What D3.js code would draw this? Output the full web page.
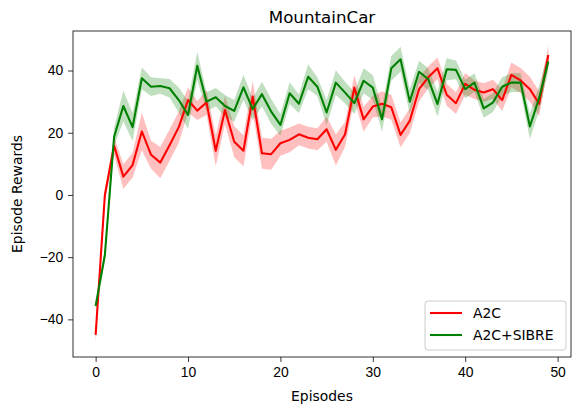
<!DOCTYPE html>
<html>
<head>
<meta charset="utf-8">
<script src="https://cdn.jsdelivr.net/npm/d3@7"></script>
<style>
  body { margin: 0; background: #fff; }
  svg { display: block; font-family: "DejaVu Sans", sans-serif; }
  .tick text { font-size: 13.9px; fill: #000; }
  .tick line { stroke: #000; stroke-width: 0.8; }
  .domain { stroke: #000; stroke-width: 0.8; }
</style>
</head>
<body>
<svg width="572" height="408"></svg>
<script>
var episodes = d3.range(0, 50);

var a2c = [-45, 0, 15.8, 5.9, 9.6, 20.4, 12.9, 10.4, 16, 21.8,
  30.5, 27.1, 29.7, 14.2, 27.3, 17.1, 14.2, 31.6, 13.4, 13.1,
  16.6, 17.7, 19.5, 18.4, 17.9, 21.1, 14.5, 19.5, 34.5, 24.3,
  28.4, 29.3, 28.2, 19.3, 23.8, 34, 37.8, 40.7, 32.2, 29.5,
  35.7, 33.8, 32.9, 34, 30.5, 38.6, 36.8, 34, 29.3, 45];
var a2cStd = [2.5, 2, 3, 4, 4, 6, 4.5, 5, 5, 5,
  4, 3, 4, 5, 4.5, 5, 5, 5, 5, 5,
  4, 4, 3.5, 3.5, 3.5, 4, 5, 4, 4, 4,
  3.5, 4, 4, 4, 4, 4, 3.5, 3.5, 3.5, 3.5,
  3.5, 3, 3, 3, 3.5, 4, 4, 4, 4, 3];

var sibre = [-35.7, -19.3, 18.7, 28.6, 21.8, 37.5, 34.8, 35, 34.3, 30.5,
  25.7, 41.5, 30, 31.4, 28.6, 27, 34.6, 27.6, 32.4, 26.8,
  22.5, 32.7, 29.3, 38, 34.8, 26.5, 36.1, 32.9, 29.5, 36.7,
  34.5, 24.3, 40.7, 43.6, 30, 39.6, 37.2, 29.2, 40.4, 40.2,
  34, 36.1, 27.8, 29.7, 34.8, 36.1, 36.1, 22, 31.1, 42.9];
var sibreStd = [1, 2, 3, 5, 4.5, 3.5, 3, 2.5, 3, 4,
  4.5, 4.5, 3, 3, 3.5, 3.5, 4, 3.5, 4, 4,
  3.5, 3.5, 3, 4, 3, 4, 4, 3.5, 3.5, 4,
  4, 4, 4, 4, 4, 3.5, 3.5, 4, 3.5, 3,
  3, 3, 3, 3, 3, 3, 3, 4, 4, 3];

var xTicks = [0, 10, 20, 30, 40, 50];
var yTicks = [-40, -20, 0, 20, 40];
var seriesNames = ["A2C", "A2C+SIBRE"];
var seriesColors = ["#ff0000", "#008000"];

var svg = d3.select("svg"),
  margin = { top: 31, right: 1, bottom: 51, left: 73 },
  width = +svg.attr("width") - margin.left - margin.right,
  height = +svg.attr("height") - margin.top - margin.bottom;

var x = d3.scaleLinear().domain([-2.45, 51.45]).range([0, width]),
  y = d3.scaleLinear().domain([-52.1, 52.7]).range([height, 0]);

var g = svg.append("g")
  .attr("transform", "translate(" + margin.left + "," + margin.top + ")");

var series = [
  { mean: a2c, std: a2cStd, color: seriesColors[0], name: seriesNames[0] },
  { mean: sibre, std: sibreStd, color: seriesColors[1], name: seriesNames[1] }
];

var band = d3.area()
  .x(function(d) { return x(d.ep); })
  .y0(function(d) { return y(d.lo); })
  .y1(function(d) { return y(d.hi); });

var line = d3.line()
  .x(function(d) { return x(d.ep); })
  .y(function(d) { return y(d.v); });

g.append("clipPath").attr("id", "clip")
  .append("rect").attr("width", width).attr("height", height);

var plot = g.append("g").attr("clip-path", "url(#clip)");

// bands first, then lines on top (matplotlib order)
series.forEach(function(s) {
  var pts = episodes.map(function(e, i) {
    return { ep: e, lo: s.mean[i] - s.std[i], hi: s.mean[i] + s.std[i] };
  });
  plot.append("path")
    .datum(pts)
    .attr("fill", s.color)
    .attr("fill-opacity", 0.25)
    .attr("d", band);
});

series.forEach(function(s) {
  var pts = episodes.map(function(e, i) { return { ep: e, v: s.mean[i] }; });
  plot.append("path")
    .datum(pts)
    .attr("fill", "none")
    .attr("stroke", s.color)
    .attr("stroke-width", 2.08)
    .attr("stroke-linejoin", "round")
    .attr("d", line);
});

var fmt = function(d) { return d < 0 ? "\u2212" + Math.abs(d) : d; };

g.append("g")
  .attr("transform", "translate(0," + height + ")")
  .call(d3.axisBottom(x).tickValues(xTicks).tickSize(4.9).tickPadding(4.9).tickSizeOuter(0))
  .call(function(a) { a.select(".domain").remove(); });

g.append("g")
  .call(d3.axisLeft(y).tickValues(yTicks).tickFormat(fmt).tickSize(4.9).tickPadding(4.9).tickSizeOuter(0))
  .call(function(a) { a.select(".domain").remove(); });

svg.selectAll(".tick text").attr("font-family", null).attr("font-size", null);

g.append("rect")
  .attr("width", width)
  .attr("height", height)
  .attr("fill", "none")
  .attr("stroke", "#000")
  .attr("stroke-width", 0.8);

g.append("text")
  .attr("x", width / 2)
  .attr("y", -8)
  .attr("text-anchor", "middle")
  .attr("font-size", 16.7)
  .text("MountainCar");

g.append("text")
  .attr("x", width / 2)
  .attr("y", height + 44)
  .attr("text-anchor", "middle")
  .attr("font-size", 13.9)
  .text("Episodes");

g.append("text")
  .attr("transform", "translate(" + (-51) + "," + (height / 2) + ") rotate(-90)")
  .attr("text-anchor", "middle")
  .attr("font-size", 13.9)
  .text("Episode Rewards");

// legend
var leg = g.append("g")
  .attr("transform", "translate(" + (width - 146) + "," + (height - 56) + ")");

leg.append("rect")
  .attr("width", 141)
  .attr("height", 49)
  .attr("rx", 3)
  .attr("fill", "#fff")
  .attr("fill-opacity", 0.8)
  .attr("stroke", "#ccc")
  .attr("stroke-width", 1);

series.forEach(function(s, i) {
  var ly = 12 + i * 22;
  leg.append("line")
    .attr("x1", 5).attr("x2", 37)
    .attr("y1", ly).attr("y2", ly)
    .attr("stroke", s.color)
    .attr("stroke-width", 2.08);
  leg.append("text")
    .attr("x", 48)
    .attr("y", ly + 5)
    .attr("font-size", 13.9)
    .text(s.name);
});
</script>
</body>
</html>
